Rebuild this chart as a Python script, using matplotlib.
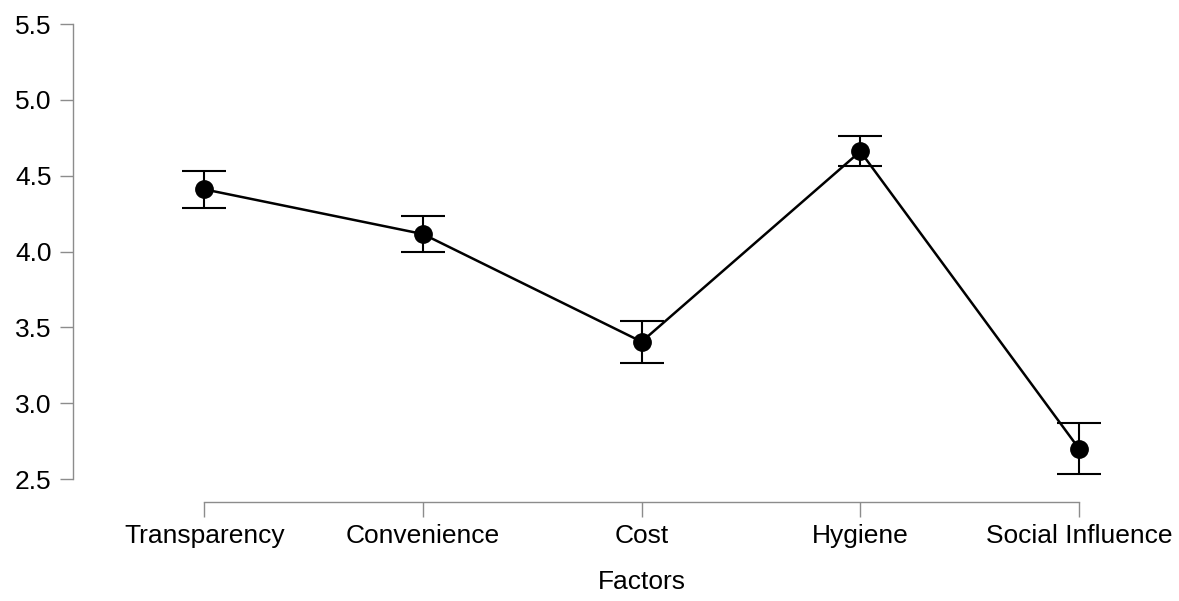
import matplotlib
matplotlib.use("Agg")
import matplotlib.pyplot as plt
import numpy as np

categories = ["Transparency", "Convenience", "Cost", "Hygiene", "Social Influence"]
means = [4.41, 4.115, 3.405, 4.66, 2.70]
lower = [4.29, 3.995, 3.267, 4.562, 2.533]
upper = [4.53, 4.234, 3.544, 4.762, 2.871]
yticks = [2.5, 3.0, 3.5, 4.0, 4.5, 5.0, 5.5]
xlabel = "Factors"

plt.rcParams['font.family'] = ['Liberation Sans', 'DejaVu Sans']

W, H = 1179, 601
fig = plt.figure(figsize=(W / 100, H / 100), dpi=100)

xlim = (-0.6, 4.4)
ylim = (2.35, 5.5)
x0_px, y_top_px = 73, 24
x_cat0, x_cat4 = 204, 1079
px_per_x = (x_cat4 - x_cat0) / 4
xr_px = x_cat0 + xlim[1] * px_per_x
y_bot_px = 501.75
ax = fig.add_axes([x0_px / W, (H - y_bot_px) / H, (xr_px - x0_px) / W, (y_bot_px - y_top_px) / H])

x = np.arange(len(categories))
m = np.array(means)
yerr = np.vstack([m - np.array(lower), np.array(upper) - m])

ax.errorbar(x, m, yerr=yerr, fmt='none', ecolor='black', elinewidth=1.5,
            capsize=15.5, capthick=1.5, zorder=2, clip_on=False)
ax.plot(x, m, color='black', linewidth=1.8, zorder=3, clip_on=False)
ax.plot(x, m, 'o', color='black', markersize=12.5, zorder=4, clip_on=False)

ax.set_xlim(*xlim)
ax.set_ylim(*ylim)
ax.set_xticks(x)
ax.set_xticklabels(categories, fontsize=19)
ax.set_yticks(yticks)
ax.set_yticklabels([f"{v:.1f}" for v in yticks], fontsize=19)

for s in ['top', 'right']:
    ax.spines[s].set_visible(False)
spine_color = '#8c8c8c'
ax.spines['left'].set_bounds(yticks[0], yticks[-1])
ax.spines['bottom'].set_bounds(x[0], x[-1])
for s in ['left', 'bottom']:
    ax.spines[s].set_color(spine_color)
    ax.spines[s].set_linewidth(1.0)
ax.tick_params(axis='both', colors=spine_color, width=1.0, labelcolor='black')
ax.tick_params(axis='y', length=9.5, pad=6)
ax.tick_params(axis='x', length=11, pad=5)

ax.set_xlabel(xlabel, fontsize=19, labelpad=16)
frac = ((x[0] + x[-1]) / 2 - xlim[0]) / (xlim[1] - xlim[0])
ax.xaxis.label.set_x(frac)

fig.savefig("out.png", dpi=100)
